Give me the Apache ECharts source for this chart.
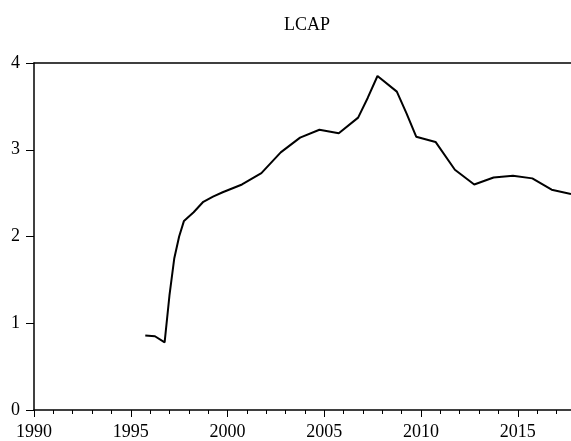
<!DOCTYPE html>
<html>
<head>
<meta charset="utf-8">
<script src="https://cdn.jsdelivr.net/npm/echarts@6/dist/echarts.min.js"></script>
<style>
html,body{margin:0;padding:0;background:#fff;}
#chart{width:571px;height:441px;}
</style>
</head>
<body>
<div id="chart"></div>
<script>
// Time positions (fractional years) and LCAP values
var years = [1995.75, 1996.25, 1996.75, 1997.0, 1997.25, 1997.5, 1997.75, 1998.25, 1998.75, 1999.25, 1999.75,
             2000.75, 2001.75, 2002.75, 2003.75, 2004.75, 2005.75, 2006.75, 2007.25, 2007.75, 2008.75,
             2009.25, 2009.75, 2010.75, 2011.75, 2012.75, 2013.75, 2014.75, 2015.75, 2016.75, 2017.75];
var lcap = [0.86, 0.85, 0.78, 1.32, 1.75, 2.00, 2.18, 2.28, 2.40, 2.46, 2.51,
            2.60, 2.73, 2.97, 3.14, 3.23, 3.19, 3.37, 3.60, 3.85, 3.67,
            3.42, 3.15, 3.09, 2.77, 2.60, 2.68, 2.70, 2.67, 2.54, 2.49];
var xMin = 1990, xMax = 2017.75;
var yMin = 0, yMax = 4;
var titleText = 'LCAP';

var font = 'Liberation Serif, Times New Roman, serif';
var chart = echarts.init(document.getElementById('chart'), null, {renderer: 'canvas'});
var seriesData = years.map(function (y, i) { return [y, lcap[i]]; });

chart.setOption({
  animation: false,
  backgroundColor: '#fff',
  title: {
    text: titleText,
    left: 302, top: 11, textAlign: 'center',
    textStyle: {fontFamily: font, fontSize: 18, fontWeight: 'normal', color: '#000'}
  },
  grid: {left: 34, right: 0, top: 63, bottom: 29.3, containLabel: false},
  xAxis: [
    {
      type: 'value', position: 'bottom', min: xMin, max: xMax, interval: 5,
      axisLine: {show: true, onZero: false, lineStyle: {color: '#000', width: 1.5}},
      axisTick: {show: true, inside: false, length: 7, lineStyle: {color: '#000', width: 1}},
      axisLabel: {
        show: true, margin: 13, showMaxLabel: false,
        fontFamily: font, fontSize: 18, color: '#000',
        formatter: function (v) { return (v % 5 === 0) ? String(v) : ''; }
      },
      splitLine: {show: false}
    },
    {
      type: 'value', position: 'bottom', min: xMin, max: xMax, interval: 1,
      axisLine: {show: false, onZero: false},
      axisTick: {show: true, inside: false, length: 4, lineStyle: {color: '#000', width: 1}},
      axisLabel: {show: false},
      splitLine: {show: false}
    },
    {
      type: 'value', position: 'top', min: xMin, max: xMax,
      axisLine: {show: true, onZero: false, lineStyle: {color: '#000', width: 1.5}},
      axisTick: {show: false},
      axisLabel: {show: false},
      splitLine: {show: false}
    }
  ],
  yAxis: {
    type: 'value', min: yMin, max: yMax, interval: 1,
    axisLine: {show: true, lineStyle: {color: '#000', width: 1.5}},
    axisTick: {show: true, inside: false, length: 8, lineStyle: {color: '#000', width: 1}},
    axisLabel: {margin: 14, fontFamily: font, fontSize: 18, color: '#000'},
    splitLine: {show: false}
  },
  series: [{
    type: 'line', xAxisIndex: 0, data: seriesData,
    showSymbol: false, smooth: false,
    lineStyle: {color: '#000', width: 2},
    clip: true
  }]
});
</script>
</body>
</html>
